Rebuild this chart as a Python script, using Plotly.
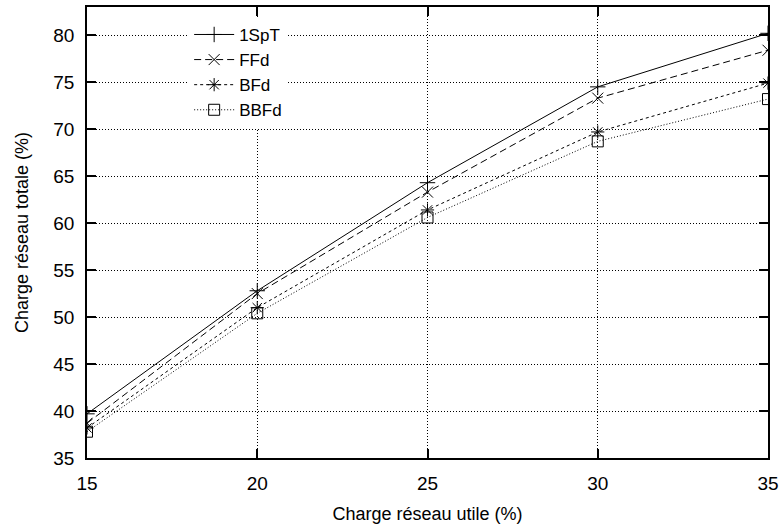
import plotly.graph_objects as go

x_vals = [15, 20, 25, 30, 35]
s_1spt = [39.7, 52.8, 64.3, 74.5, 80.2]
s_ffd = [38.7, 52.5, 63.3, 73.3, 78.4]
s_bfd = [38.2, 51.0, 61.4, 69.7, 74.9]
s_bbfd = [37.8, 50.4, 60.6, 68.7, 73.2]

names = ["1SpT", "FFd", "BFd", "BBFd"]
series = [s_1spt, s_ffd, s_bfd, s_bbfd]
symbols = ["cross-thin-open", "x-thin-open", "asterisk-open", "square-open"]
dashes = ["solid", "7px,4px", "3px,3px", "1px,2px"]

fig = go.Figure()
for n, s, sym, d in zip(names, series, symbols, dashes):
    fig.add_trace(go.Scatter(
        x=x_vals, y=s, name=n, mode="lines+markers",
        line=dict(color="black", width=1, dash=d),
        marker=dict(symbol=sym, size=11, color="black",
                    line=dict(color="black", width=1)),
    ))

axis_common = dict(
    showgrid=True, gridcolor="black", griddash="1px,2px", gridwidth=1,
    showline=True, linecolor="black", linewidth=1.5, mirror="ticks",
    ticks="inside", ticklen=9, tickcolor="black", tickwidth=1.5,
    zeroline=False, tickfont=dict(size=19, color="black"),
    ticklabelstandoff=7,
)
fig.update_xaxes(range=[15, 35], dtick=5, tick0=15,
                 title=dict(text="Charge réseau utile (%)", font=dict(size=18, color="black"), standoff=15),
                 automargin=False, **axis_common)
fig.update_yaxes(range=[35, 83], dtick=5, tick0=35,
                 title=dict(text="Charge réseau totale (%)", font=dict(size=18, color="black"), standoff=20),
                 automargin=False, **axis_common)

fig.update_layout(
    width=782, height=529,
    margin=dict(l=87, r=14, t=7, b=71),
    paper_bgcolor="white", plot_bgcolor="white",
    font=dict(family="Liberation Sans, Arial, sans-serif", size=19, color="black"),
    legend=dict(x=0.15, y=0.978, xanchor="left", yanchor="top",
                bgcolor="white", borderwidth=0, tracegroupgap=0,
                font=dict(size=17), itemwidth=40),
)

fig.write_html("out.html", config={"displayModeBar": False},
               post_script="document.body.style.margin='0';")
